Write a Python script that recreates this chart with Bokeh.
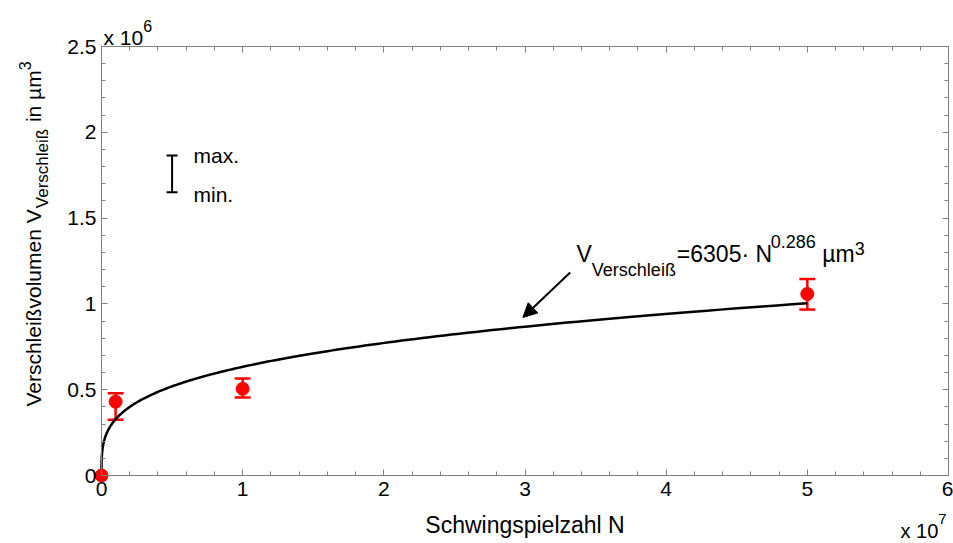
import numpy as np
from bokeh.plotting import figure
from bokeh.models import (ColumnDataSource, Label, Whisker, TeeHead, Arrow, NormalHead,
                          LinearAxis, FixedTicker, CustomJSTickFormatter, Range1d)
from bokeh.embed import file_html
from bokeh.resources import INLINE

# ---------------- data ----------------
cycles_e7 = [0.0, 0.1, 1.0, 5.0]            # Schwingspielzahl N  (x 10^7)
wear_mean_e6 = [0.0, 0.43, 0.505, 1.058]    # Verschleißvolumen   (x 10^6 µm³)
wear_min_e6 = [0.0, 0.325, 0.455, 0.967]
wear_max_e6 = [0.0, 0.48, 0.565, 1.145]

fit_coeff = 6305
fit_exp = 0.286
fit_n_max = 5.0e7

x_tick_values = [0, 1, 2, 3, 4, 5, 6]
x_tick_labels = ["0", "1", "2", "3", "4", "5", "6"]
y_tick_values = [0, 0.5, 1, 1.5, 2, 2.5]
y_tick_labels = ["0", "0.5", "1", "1.5", "2", "2.5"]

x_label = "Schwingspielzahl N"
legend_texts = ["max.", "min."]
legend_bar_x = [0.5]
legend_bar_min = [1.65]
legend_bar_max = [1.865]
arrow_start = (3.32, 1.183)
arrow_end = (2.985, 0.921)

# ---------------- layout ----------------
W, H = 953, 543
L, R, T, B = 101, 5, 46, 68          # position of the axes box inside the canvas
FW, FH = W - L - R, H - T - B
X0, X1 = 0, 6
Y0, Y1 = 0, 2.5
FONT = "Liberation Sans"
GRAY = "#808080"
RED = "#ff0000"


def dx(px):
    return X0 + (px - L) * (X1 - X0) / FW


def dy(py):
    return Y0 + (T + FH - py) * (Y1 - Y0) / FH


AW = {' ': 278, '.': 278, '=': 584, '·': 278, 'N': 722, 'V': 667, 'e': 556, 'r': 333,
      's': 500, 'c': 500, 'h': 556, 'l': 222, 'i': 222, 'ß': 611, 'µ': 576, 'm': 833,
      'n': 556, 'v': 500, 'o': 556, 'u': 556, 'x': 500, 'a': 556}


def tw(s, size):
    return sum(AW.get(c, 556) for c in s) / 1000.0 * size


# the frame covers the whole canvas; the axes are pinned at the box edges
p = figure(width=W, height=H,
           x_range=Range1d(dx(0), dx(W)), y_range=Range1d(dy(H), dy(0)),
           output_backend="svg", toolbar_location=None,
           min_border_left=0, min_border_right=0, min_border_top=0, min_border_bottom=0,
           background_fill_color="white", border_fill_color="white")
p.grid.visible = False
p.outline_line_color = None


def fmt(vals, labs):
    return CustomJSTickFormatter(args=dict(vals=vals, labs=labs), code="""
        for (let i = 0; i < vals.length; i++) {
            if (Math.abs(vals[i] - tick) < 1e-9) return labs[i];
        }
        return "";
    """)


x_minor = [round(v, 3) for v in np.arange(X0, X1 + 1e-9, 0.2)]
y_minor = [round(v, 3) for v in np.arange(Y0, Y1 + 1e-9, 0.1)]
xt = FixedTicker(ticks=x_tick_values, minor_ticks=x_minor)
yt = FixedTicker(ticks=y_tick_values, minor_ticks=y_minor)


def style_axis(ax, show_labels):
    ax.axis_line_color = GRAY
    ax.axis_line_width = 1
    ax.major_tick_line_color = GRAY
    ax.minor_tick_line_color = GRAY
    ax.major_tick_in = 6
    ax.major_tick_out = 0
    ax.minor_tick_in = 4
    ax.minor_tick_out = 0
    ax.major_label_text_font = FONT
    ax.major_label_text_color = "black"
    ax.major_label_text_font_size = "21px"
    if not show_labels:
        ax.major_label_standoff = 0


bottom_ax = p.xaxis[0]
left_ax = p.yaxis[0]
bottom_ax.ticker = xt
bottom_ax.formatter = fmt(x_tick_values, x_tick_labels)
bottom_ax.fixed_location = Y0
bottom_ax.bounds = (X0, X1)
left_ax.ticker = yt
left_ax.formatter = fmt(y_tick_values, y_tick_labels)
left_ax.fixed_location = X0
left_ax.bounds = (Y0, Y1)
style_axis(bottom_ax, True)
style_axis(left_ax, True)
bottom_ax.major_label_standoff = 6
left_ax.major_label_standoff = 5

blank = CustomJSTickFormatter(code="return '';")
top_ax = LinearAxis(ticker=xt, formatter=blank, fixed_location=Y1, bounds=(X0, X1))
right_ax = LinearAxis(ticker=yt, formatter=blank, fixed_location=X1, bounds=(Y0, Y1))
style_axis(top_ax, False)
style_axis(right_ax, False)
p.add_layout(top_ax, "above")
p.add_layout(right_ax, "right")

# ---------------- fit curve ----------------
n_grid = np.concatenate([[0.0], np.geomspace(1e2, fit_n_max, 600)])
v_fit = fit_coeff * n_grid ** fit_exp
p.line(n_grid / 1e7, v_fit / 1e6, line_color="black", line_width=2.5)

# ---------------- measured points ----------------
err_idx = [i for i in range(len(cycles_e7)) if wear_max_e6[i] > wear_min_e6[i]]
err_src = ColumnDataSource(dict(x=[cycles_e7[i] for i in err_idx],
                                lo=[wear_min_e6[i] for i in err_idx],
                                hi=[wear_max_e6[i] for i in err_idx]))
p.add_layout(Whisker(source=err_src, base="x", lower="lo", upper="hi", dimension="height",
                     line_color=RED, line_width=2.5,
                     upper_head=TeeHead(size=16, line_color=RED, line_width=2.5),
                     lower_head=TeeHead(size=16, line_color=RED, line_width=2.5)))
p.scatter(cycles_e7, wear_mean_e6, size=13, fill_color=RED, line_color=RED, marker="circle")

# ---------------- legend symbol ----------------
leg_src = ColumnDataSource(dict(x=legend_bar_x, lo=legend_bar_min, hi=legend_bar_max))
p.add_layout(Whisker(source=leg_src, base="x", lower="lo", upper="hi", dimension="height",
                     line_color="black", line_width=2,
                     upper_head=TeeHead(size=11, line_color="black", line_width=2),
                     lower_head=TeeHead(size=11, line_color="black", line_width=2)))
p.add_layout(Label(x=dx(193), y=dy(166), text=legend_texts[0], text_font=FONT,
                   text_font_size="21px", text_color="black"))
p.add_layout(Label(x=dx(193), y=dy(205), text=legend_texts[1], text_font=FONT,
                   text_font_size="21px", text_color="black"))

# ---------------- arrow ----------------
p.add_layout(Arrow(x_start=arrow_start[0], y_start=arrow_start[1],
                   x_end=arrow_end[0], y_end=arrow_end[1],
                   line_color="black", line_width=2,
                   end=NormalHead(size=14, fill_color="black", line_color="black", line_width=1)))


# ---------------- composed texts ----------------
def chain(pieces, start_px, base_px, vertical=False):
    pos = start_px
    for text, size, shift in pieces:
        stripped = text.lstrip(" ")
        lead = tw(text[:len(text) - len(stripped)], size)
        if vertical:
            pos -= lead
            p.add_layout(Label(x=dx(base_px + shift), y=dy(pos), text=stripped, angle=np.pi / 2,
                               text_font=FONT, text_font_size=f"{size}px", text_color="black",
                               text_align="left", text_baseline="alphabetic"))
            pos -= tw(stripped, size)
        else:
            pos += lead
            p.add_layout(Label(x=dx(pos), y=dy(base_px + shift), text=stripped,
                               text_font=FONT, text_font_size=f"{size}px", text_color="black",
                               text_align="left", text_baseline="alphabetic"))
            pos += tw(stripped, size)


# fit equation
chain([("V", 23, 0), ("Verschleiß", 18, 16), (f"={fit_coeff}· N", 23, 0),
       (f"{fit_exp}", 18, -12), (" µm", 23, 0), ("3", 18, -5)], 576, 253)

# y axis label (rotated)
ylab = [("Verschleißvolumen V", 21, 0), ("Verschleiß", 17, 9), (" in µm", 21, 0), ("3", 16, -9)]
total = sum(tw(t, s) for t, s, _ in ylab)
chain(ylab, 233.5 + total / 2, 33, vertical=True)

# x axis label
p.add_layout(Label(x=dx(L + FW / 2), y=dy(524), text=x_label, text_font=FONT,
                   text_font_size="23px", text_color="black", text_align="center",
                   text_baseline="alphabetic"))

# scale multipliers
chain([("x 10", 21, 0), ("6", 16, -12)], 103, 37)
chain([("x 10", 20, 0), ("7", 15, -12)], 900, 530)

open("out.html", "w").write(file_html(p, INLINE))
